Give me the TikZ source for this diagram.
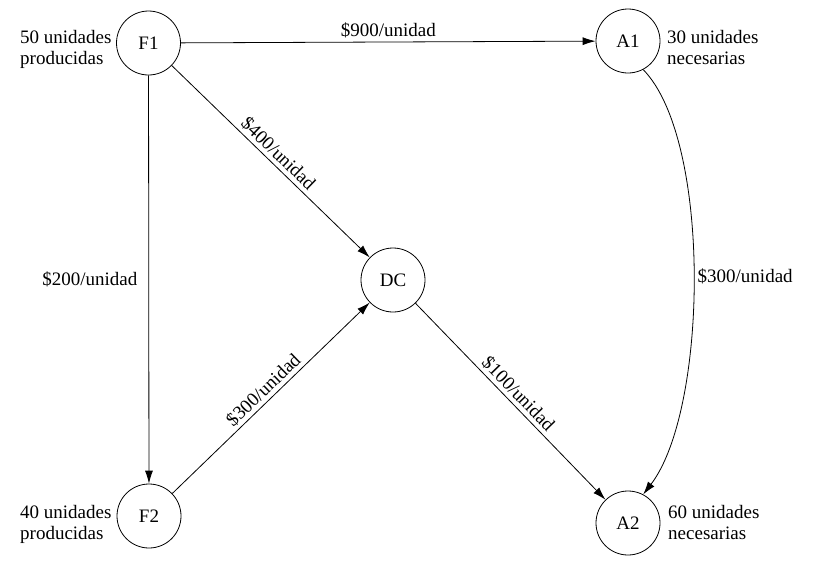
\documentclass[tikz,border=0pt]{standalone}
\usepackage{fontspec}
\setmainfont{Liberation Serif}
\usetikzlibrary{arrows.meta}
\begin{document}
\begin{tikzpicture}[x=1pt,y=-1pt,
  every node/.style={font=\fontsize{19}{21}\selectfont},
  place/.style={draw, circle, minimum size=64pt, inner sep=0pt, line width=0.8pt},
  flow/.style={line width=0.8pt, -{Latex[length=13pt,width=8pt]}},
  lbl/.style={inner sep=3pt},
  info/.style={align=left, inner sep=0pt, anchor=north west}]
\useasboundingbox (0,0) rectangle (824,563);
\node[place] (F1) at (148.5,43) {F1};
\node[place] (A1) at (628,41) {A1};
\node[place] (DC) at (393,280) {DC};
\node[place] (F2) at (149,516) {F2};
\node[place] (A2) at (628,523) {A2};
\node[info] (iF1) at (20,30) {50 unidades\\producidas};
\node[info] (iA1) at (667,30) {30 unidades\\necesarias};
\node[info] (iF2) at (20,505) {40 unidades\\producidas};
\node[info] (iA2) at (668,505) {60 unidades\\necesarias};
\draw[flow] (F1) -- node[lbl, above=1pt] (l1) {\$900/unidad} (A1);
\draw[flow] (F1) -- node[lbl, left=8pt] (l2) {\$200/unidad} (F2);
\draw[flow] (F1) -- node[lbl, sloped, above] (l3) {\$400/unidad} (DC);
\draw[flow] (F2) -- node[lbl, sloped, above] (l4) {\$300/unidad} (DC);
\draw[flow] (DC) -- node[lbl, sloped, above] (l5) {\$100/unidad} (A2);
\draw[flow] (A1.-62) .. controls (712,140) and (708,410) .. node[lbl, right=1pt] (l6) {\$300/unidad} (A2.62);
\end{tikzpicture}
\end{document}
